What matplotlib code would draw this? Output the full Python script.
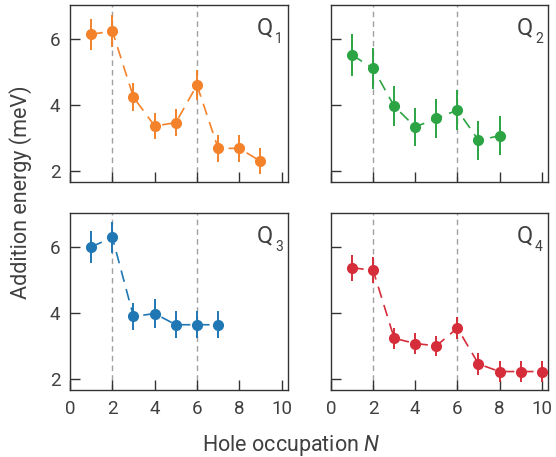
import matplotlib
matplotlib.use("Agg")
import matplotlib.pyplot as plt

plt.rcParams["font.family"] = ["Roboto", "DejaVu Sans"]
plt.rcParams["mathtext.fontset"] = "custom"
plt.rcParams["mathtext.it"] = "Roboto:italic"
plt.rcParams["mathtext.rm"] = "Roboto"

# addition energies per dot (meV) with error bars
n_q1 = [1, 2, 3, 4, 5, 6, 7, 8, 9]
e_q1 = [6.14, 6.24, 4.23, 3.36, 3.46, 4.60, 2.68, 2.68, 2.29]
err_q1 = [0.48, 0.48, 0.43, 0.40, 0.41, 0.45, 0.40, 0.40, 0.40]

n_q2 = [1, 2, 3, 4, 5, 6, 7, 8]
e_q2 = [5.51, 5.11, 3.96, 3.33, 3.59, 3.84, 2.93, 3.06]
err_q2 = [0.63, 0.62, 0.61, 0.59, 0.60, 0.61, 0.59, 0.59]

n_q3 = [1, 2, 3, 4, 5, 6, 7]
e_q3 = [6.00, 6.29, 3.89, 3.98, 3.64, 3.64, 3.64]
err_q3 = [0.49, 0.48, 0.42, 0.43, 0.41, 0.41, 0.41]

n_q4 = [1, 2, 3, 4, 5, 6, 7, 8, 9, 10]
e_q4 = [5.37, 5.29, 3.23, 3.07, 3.00, 3.54, 2.45, 2.22, 2.22, 2.22]
err_q4 = [0.39, 0.39, 0.32, 0.32, 0.31, 0.34, 0.32, 0.32, 0.32, 0.32]

dot_names = ["1", "2", "3", "4"]
colors = ["#f4822a", "#2ca444", "#1f77b4", "#d62d3a"]
shell_closings = [2, 6]

datasets = [
    (n_q1, e_q1, err_q1),
    (n_q2, e_q2, err_q2),
    (n_q3, e_q3, err_q3),
    (n_q4, e_q4, err_q4),
]

W, H = 556, 457
fig = plt.figure(figsize=(W / 100, H / 100), dpi=100)
text_color = "#404040"
spine_color = "#333333"

# panel boxes in pixels: left, top, right, bottom
boxes = [
    (70, 5, 288, 182),
    (331, 5, 548, 182),
    (70, 213, 288, 390),
    (331, 213, 548, 390),
]

for i, ((x, y, err), name, color, box) in enumerate(zip(datasets, dot_names, colors, boxes)):
    l, t, r, b = box
    ax = fig.add_axes([l / W, 1 - b / H, (r - l) / W, (b - t) / H])
    for xv in shell_closings:
        ax.axvline(xv, color="#a0a0a0", lw=1.0, ls=(0, (4, 3)), zorder=1)
    ax.plot(x, y, color=color, lw=1.2, ls=(0, (7, 4.5)), zorder=2)
    ax.errorbar(x, y, yerr=err, fmt="o", color=color, ms=7, elinewidth=1.4,
                capsize=0, zorder=3)
    ax.set_xlim(0, 10.3)
    ax.set_ylim(1.66, 7.03)
    ax.set_xticks([0, 2, 4, 6, 8, 10])
    ax.set_yticks([2, 4, 6])
    ax.tick_params(direction="in", length=7, width=1.0, color=spine_color,
                   labelcolor=text_color, labelsize=13.5, pad=7)
    if i % 2 == 1:
        ax.tick_params(labelleft=False)
    if i < 2:
        ax.tick_params(labelbottom=False)
    for s in ax.spines.values():
        s.set_color(spine_color)
        s.set_linewidth(1.0)
    # dot label with a dropped subscript
    ax.text(0.931, 0.836, "Q", transform=ax.transAxes, ha="right", va="baseline",
            fontsize=17, color=text_color)
    ax.text(0.940, 0.785, name, transform=ax.transAxes, ha="left", va="baseline",
            fontsize=10, color=text_color)

fig.text(21 / W, 1 - 192 / H, "Addition energy (meV)", rotation=90,
         ha="center", va="center", fontsize=15.5, color=text_color)
fig.text(291 / W, 1 - 451 / H, "Hole occupation $N$", ha="center", va="baseline",
         fontsize=15.5, color=text_color)

fig.savefig("out.png", dpi=100)
